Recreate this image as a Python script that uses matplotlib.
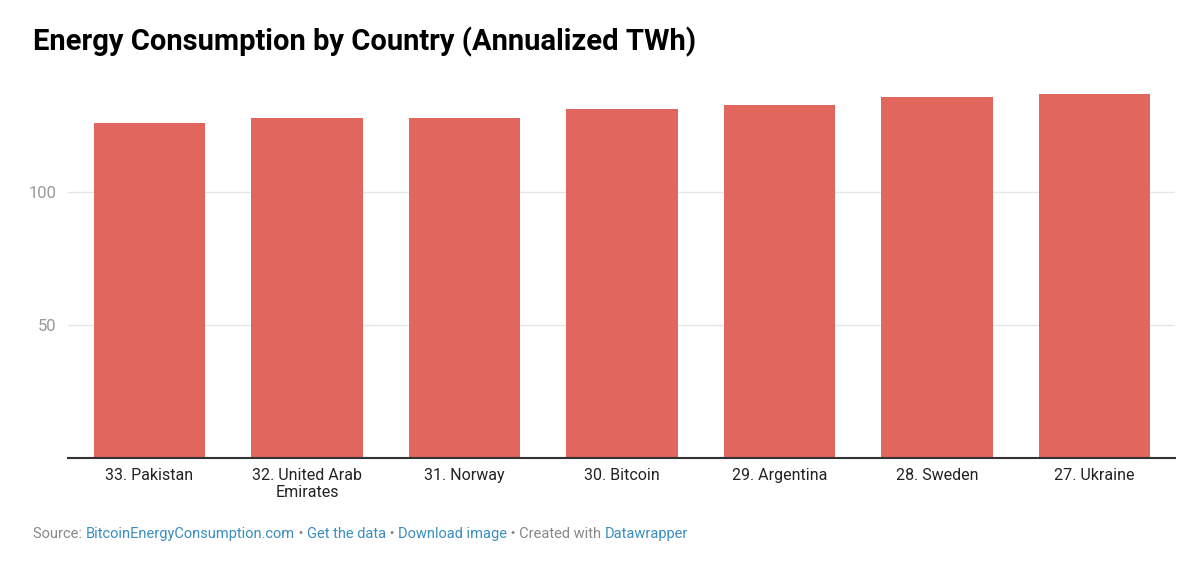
import matplotlib
matplotlib.use("Agg")
import matplotlib.pyplot as plt

categories = ["33. Pakistan", "32. United Arab\nEmirates", "31. Norway", "30. Bitcoin",
              "29. Argentina", "28. Sweden", "27. Ukraine"]
values = [125.8, 127.7, 127.8, 131.2, 132.8, 135.8, 136.8]
yticks = [50, 100]

plt.rcParams['font.family'] = ['Roboto', 'DejaVu Sans']

fig = plt.figure(figsize=(12, 5.64), dpi=100)
ax = fig.add_axes([68/1200, 1-458/564, (1175-68)/1200, (458-85.6)/564])

x = list(range(len(categories)))
ax.bar(x, values, width=0.705, color="#e1665e", zorder=3)
ax.set_xlim(-(149.5-68)/157.5, len(categories) - 1 + (1175-1094.5)/157.5)
ax.set_ylim(0, 140)

ax.set_yticks(yticks)
ax.set_yticklabels([str(t) for t in yticks], color="#999999", fontsize=12)
ax.yaxis.grid(True, color="#e6e6e6", linewidth=1, zorder=0)
ax.tick_params(axis='y', length=0, pad=8)

ax.set_xticks(x)
ax.set_xticklabels(categories, fontsize=11.5, color="#222222", linespacing=1.15, va='top')
ax.tick_params(axis='x', length=0, pad=7)

for s in ['top', 'right', 'left']:
    ax.spines[s].set_visible(False)
ax.spines['bottom'].set_color("#333333")
ax.spines['bottom'].set_linewidth(1.5)
ax.spines['bottom'].set_zorder(4)

fig.text(33/1200, 1-42/564, "Energy Consumption by Country (Annualized TWh)",
         fontsize=21, fontweight='bold', color="#000000", va='center', ha='left')

parts = [("Source: ", "#888888"), ("BitcoinEnergyConsumption.com", "#3a8dbf"),
         (" • ", "#888888"), ("Get the data", "#3a8dbf"), (" • ", "#888888"),
         ("Download image", "#3a8dbf"), (" • Created with ", "#888888"),
         ("Datawrapper", "#3a8dbf")]
fig.canvas.draw()
renderer = fig.canvas.get_renderer()
xpos = 33/1200
for txt, col in parts:
    t = fig.text(xpos, 1-534/564, txt, fontsize=10.5, color=col, va='center', ha='left')
    bb = t.get_window_extent(renderer=renderer)
    xpos += bb.width / 1200

fig.savefig("out.png", dpi=100, facecolor="white")
